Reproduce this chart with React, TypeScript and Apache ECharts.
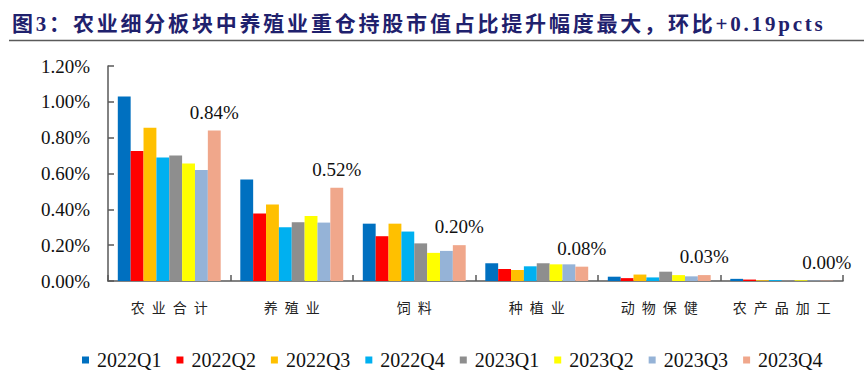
import React, { useEffect, useRef } from "react";
import * as echarts from "echarts";

const titleText = "图3：农业细分板块中养殖业重仓持股市值占比提升幅度最大，环比+0.19pcts";
const categories = ["农业合计", "养殖业", "饲料", "种植业", "动物保健", "农产品加工"];
const seriesNames = ["2022Q1", "2022Q2", "2022Q3", "2022Q4", "2023Q1", "2023Q2", "2023Q3", "2023Q4"];
const colors = ["#0070C0", "#FF0000", "#FFC000", "#00B0F0", "#8E8E8E", "#FFFF00", "#95B3D7", "#F0A78B"];

const v2022Q1 = [1.03, 0.567, 0.32, 0.099, 0.024, 0.012];
const v2022Q2 = [0.725, 0.377, 0.25, 0.067, 0.016, 0.008];
const v2022Q3 = [0.855, 0.427, 0.32, 0.061, 0.036, 0.004];
const v2022Q4 = [0.69, 0.3, 0.276, 0.082, 0.02, 0.005];
const v2023Q1 = [0.7, 0.328, 0.21, 0.099, 0.052, 0.004];
const v2023Q2 = [0.656, 0.363, 0.157, 0.093, 0.033, 0.004];
const v2023Q3 = [0.62, 0.326, 0.168, 0.093, 0.026, 0.002];
const v2023Q4 = [0.84, 0.52, 0.2, 0.08, 0.033, 0.002];
const allValues = [v2022Q1, v2022Q2, v2022Q3, v2022Q4, v2023Q1, v2023Q2, v2023Q3, v2023Q4];

const SERIF = "'Times New Roman', 'Liberation Serif', 'Noto Sans CJK SC', serif";

function applySpacing(dom: HTMLElement) {
  dom.querySelectorAll("text").forEach((t) => {
    const s = t.textContent || "";
    if (/[\u4e00-\u9fff]/.test(s)) {
      if (s.startsWith("图")) {
        (t as any).style.letterSpacing = "2.8px";
      } else {
        (t as any).style.letterSpacing = "7px";
      }
    }
  });
}

export default function App() {
  const ref = useRef<HTMLDivElement>(null);
  useEffect(() => {
    document.body.style.margin = "0";
    if (!ref.current) return;
    const chart = echarts.init(ref.current, null, { renderer: "svg" });
    const series = seriesNames.map((name, i) => ({
      name,
      type: "bar",
      data: allValues[i],
      barGap: "0%",
      barCategoryGap: "16%",
      itemStyle: { color: colors[i] },
      label:
        i === 7
          ? {
              show: true,
              position: "top",
              distance: 9,
              formatter: (p: any) => p.value.toFixed(2) + "%",
              fontFamily: SERIF,
              fontSize: 19,
              color: "#111",
            }
          : { show: false },
    }));
    chart.setOption({
      animation: false,
      backgroundColor: "#fff",
      title: {
        text: titleText,
        left: 12,
        top: 13,
        padding: 0,
        textStyle: {
          fontFamily: SERIF,
          fontWeight: "bold",
          fontSize: 21,
          color: "#1F216D",
        },
      },
      graphic: [
        {
          type: "line",
          shape: { x1: 9, y1: 40.5, x2: 864, y2: 40.5 },
          style: { stroke: "#5a5a5a", lineWidth: 1.5 },
        },
      ],
      legend: {
        data: seriesNames,
        left: 77,
        top: 345,
        icon: "rect",
        itemWidth: 7,
        itemHeight: 7,
        itemGap: 15,
        textStyle: {
          fontFamily: SERIF,
          fontSize: 20,
          color: "#111",
          padding: [0, 0, 0, 3],
        },
      },
      grid: { left: 108, right: 21, top: 66, bottom: 90, containLabel: false },
      xAxis: {
        type: "category",
        data: categories,
        axisLine: { lineStyle: { color: "#595959", width: 1.5 } },
        axisTick: { show: true, inside: true, length: 6, lineStyle: { color: "#595959", width: 1.5 } },
        axisLabel: {
          margin: 19,
          fontFamily: "'Noto Sans CJK SC', sans-serif",
          fontSize: 14,
          color: "#222",
          padding: [0, 0, 0, 7],
        },
      },
      yAxis: {
        type: "value",
        min: 0,
        max: 1.2,
        interval: 0.2,
        splitLine: { show: false },
        axisLine: { show: true, lineStyle: { color: "#595959", width: 1.5 } },
        axisTick: { show: true, inside: true, length: 6, lineStyle: { color: "#595959", width: 1.5 } },
        axisLabel: {
          margin: 18,
          fontFamily: SERIF,
          fontSize: 19,
          color: "#111",
          formatter: (v: number) => v.toFixed(2) + "%",
        },
      },
      series,
    });
    const dom = ref.current;
    applySpacing(dom);
    chart.on("finished", () => applySpacing(dom));
    const t = setTimeout(() => applySpacing(dom), 50);
    return () => {
      clearTimeout(t);
      chart.dispose();
    };
  }, []);
  return <div ref={ref} style={{ width: 864, height: 371 }} />;
}
